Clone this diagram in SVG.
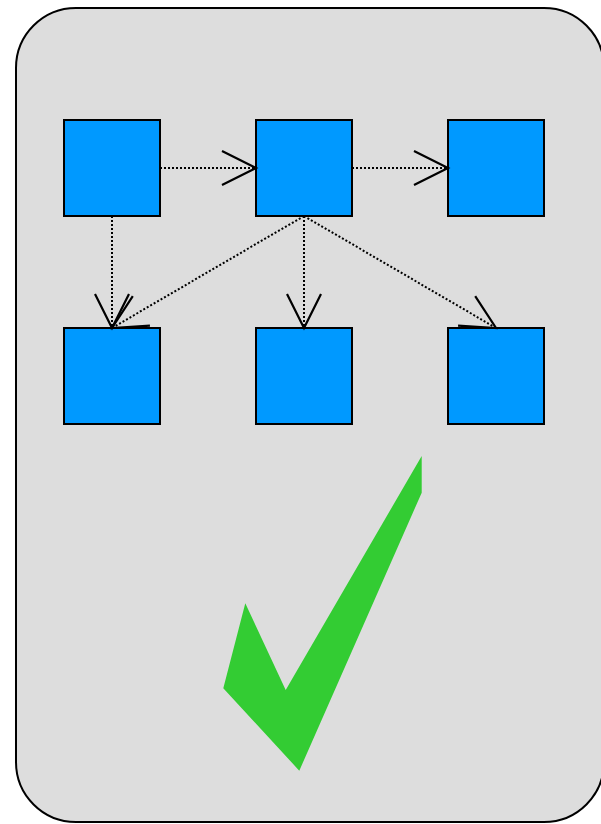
<svg xmlns="http://www.w3.org/2000/svg" width="601" height="824" viewBox="0 0 601 824">
  <style>
    .card { fill: #dddddd; stroke: #000; stroke-width: 2; }
    .node rect { fill: #0099ff; stroke: #000; stroke-width: 2; }
    .edge { fill: none; stroke: #000; stroke-width: 2; stroke-dasharray: 2 2; marker-end: url(#vee); }
    .check { fill: #33cc33; }
  </style>
  <defs>
    <marker id="vee" markerUnits="userSpaceOnUse" orient="auto" overflow="visible" refX="0" refY="0" markerWidth="40" markerHeight="40">
      <path d="M-34,-17 L0,0 L-34,17" fill="none" stroke="#000" stroke-width="2.2" stroke-dasharray="none"/>
    </marker>
  </defs>

  <!-- background card -->
  <rect class="card" x="16" y="8" width="588" height="814" rx="60" ry="60"/>

  <!-- nodes -->
  <g id="n1" class="node"><rect x="64" y="120" width="96" height="96"/></g>
  <g id="n2" class="node"><rect x="256" y="120" width="96" height="96"/></g>
  <g id="n3" class="node"><rect x="448" y="120" width="96" height="96"/></g>
  <g id="n4" class="node"><rect x="64" y="328" width="96" height="96"/></g>
  <g id="n5" class="node"><rect x="256" y="328" width="96" height="96"/></g>
  <g id="n6" class="node"><rect x="448" y="328" width="96" height="96"/></g>

  <!-- connectors -->
  <g id="edges">
    <path class="edge" d="M160,168 L256,168"/>
    <path class="edge" d="M352,168 L448,168"/>
    <path class="edge" d="M112,216 L112,328"/>
    <path class="edge" d="M304,216 L112,328"/>
    <path class="edge" d="M304,216 L304,328"/>
    <path class="edge" d="M304,216 L496,328"/>
  </g>

  <!-- check mark -->
  <polygon class="check" points="421.7,456 421.7,492.7 299.3,770.7 223.3,688.3 245.3,603.3 285.7,690"/>
</svg>
